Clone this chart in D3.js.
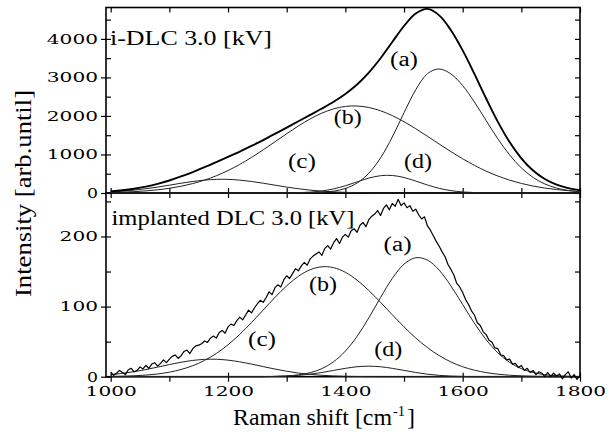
<!DOCTYPE html>
<html>
<head>
<meta charset="utf-8">
<script src="https://cdn.jsdelivr.net/npm/d3@7"></script>
<style>
  body { margin: 0; background: #fff; }
  text { fill: #000; }
</style>
</head>
<body>
<svg id="chart" width="611" height="437"></svg>
<script>
// sampling grids (Raman shift, cm-1)
const shift = d3.range(1000, 1801, 20);
const shiftFine = d3.range(1000, 1801, 5);

const topTotal = [43, 71, 111, 166, 237, 325, 429, 544, 669, 801, 937, 1076, 1222, 1374, 1533, 1696, 1862, 2026, 2192, 2368, 2570,
  2815, 3123, 3496, 3918, 4334, 4656, 4777, 4609, 4225, 3701, 3091, 2452, 1847, 1322, 900, 584, 363, 218, 127, 72];
const topA = [0, 0, 0, 0, 0, 0, 0, 0, 0, 0, 0, 0, 0, 0, 0, 0, 2, 6, 18, 48, 118,
  259, 513, 911, 1453, 2082, 2679, 3098, 3218, 3090, 2787, 2362, 1880, 1406, 988, 652, 404, 235, 129, 66, 32];
const topB = [14, 23, 36, 55, 83, 122, 175, 245, 335, 447, 583, 742, 923, 1120, 1329, 1539, 1740, 1922, 2073, 2184, 2247,
  2258, 2219, 2134, 2009, 1850, 1668, 1472, 1270, 1073, 887, 718, 568, 440, 334, 248, 180, 128, 89, 61, 40];
const topC = [29, 48, 75, 111, 154, 203, 254, 299, 334, 354, 354, 334, 299, 254, 203, 154, 111, 75, 48, 29, 17,
  9, 5, 2, 1, 0, 0, 0, 0, 0, 0, 0, 0, 0, 0, 0, 0, 0, 0, 0, 0];
const topD = [0, 0, 0, 0, 0, 0, 0, 0, 0, 0, 0, 0, 0, 0, 1, 3, 9, 23, 53, 107, 188,
  289, 386, 449, 455, 402, 309, 207, 121, 62, 27, 11, 4, 1, 0, 0, 0, 0, 0, 0, 0];

// implanted DLC 3.0 kV : raw spectrum (every 5 cm-1) + fitted peaks
const implantedRaw = [
  7, 2, 5, 9, 6, 3, 10, 12, 7, 9,
  14, 11, 16, 12, 18, 20, 15, 19, 24, 20,
  25, 29, 31, 26, 30, 36, 38, 33, 40, 44,
  45, 47, 51, 49, 55, 58, 55, 63, 66, 62,
  71, 75, 73, 80, 85, 81, 88, 95, 91, 98,
  104, 109, 106, 113, 121, 117, 127, 131, 128, 138,
  144, 140, 147, 154, 151, 158, 163, 159, 168, 172,
  175, 178, 173, 183, 187, 182, 191, 197, 190, 199,
  203, 199, 208, 211, 206, 216, 220, 214, 224, 229,
  232, 237, 230, 240, 245, 238, 247, 243, 253, 244,
  248, 241, 244, 236, 239, 231, 225, 228, 215, 209,
  201, 193, 186, 178, 171, 160, 153, 145, 133, 128,
  120, 110, 103, 94, 88, 77, 73, 64, 60, 52,
  49, 41, 40, 31, 30, 24, 25, 18, 19, 13,
  16, 9, 12, 6, 9, 3, 7, 5, 0, 6,
  0, 5, 1, 4, -3, 3, 7, -2, 3, -4,
  2];
const botA = [0, 0, 0, 0, 0, 0, 0, 0, 0, 0, 0, 0, 0, 0, 0.4, 1.1, 2.7, 5.7, 11.5, 21.4, 36.5,
  57.6, 83.9, 112.9, 140.1, 160.5, 169.7, 166.3, 151.9, 129.4, 102.9, 76.3, 52.8, 34.0, 20.5, 11.5, 6.0, 2.9, 1.3, 0.6, 0.2];
const botB = [0.4, 0.7, 1.3, 2.3, 3.9, 6.4, 10.3, 15.7, 23.2, 33.1, 45.5, 60.4, 77.2, 95.1, 113.1, 129.6, 143.2, 152.6, 156.8, 155.5, 148.9,
  137.7, 123.0, 106.1, 88.3, 71.1, 55.2, 41.5, 30.1, 21.0, 14.2, 9.3, 5.9, 3.6, 2.1, 1.2, 0.7, 0.4, 0.2, 0.1, 0];
const botC = [3.0, 4.8, 7.2, 10.2, 13.7, 17.3, 20.6, 23.2, 24.7, 24.9, 23.6, 21.2, 18.0, 14.4, 10.9, 7.8, 5.2, 3.3, 2.0, 1.1, 0.6,
  0.3, 0.1, 0, 0, 0, 0, 0, 0, 0, 0, 0, 0, 0, 0, 0, 0, 0, 0, 0, 0];
const botD = [0, 0, 0, 0, 0, 0, 0, 0, 0, 0, 0, 0, 0, 0, 0.4, 0.9, 1.9, 3.6, 6.0, 9.0, 11.9,
  14.2, 15.0, 14.2, 11.9, 9.0, 6.0, 3.6, 1.9, 0.9, 0.4, 0, 0, 0, 0, 0, 0, 0, 0, 0, 0];

const xMajor = [1000, 1200, 1400, 1600, 1800];
const xMinor = [1000, 1100, 1200, 1300, 1400, 1500, 1600, 1700, 1800];
const topMajor = [0, 1000, 2000, 3000, 4000];
const topMinor = [0, 500, 1000, 1500, 2000, 2500, 3000, 3500, 4000, 4500];
const botMajor = [0, 100, 200];
const botMinor = [0, 50, 100, 150, 200, 250];

const peakLabels = ["(a)", "(b)", "(c)", "(d)"];
// label anchors in data units
const topLabelShift = [1500, 1404, 1326, 1524];
const topLabelInt = [3300, 1790, 650, 650];
const botLabelShift = [1489, 1362, 1258, 1473];
const botLabelInt = [179, 122, 44, 29.5];

const svg = d3.select("#chart");
const left = 106, right = 580;

const x = d3.scaleLinear().domain([992, 1800]).range([left, right]);
const yTop = d3.scaleLinear().domain([0, 4814]).range([193, 7.5]);
const yBot = d3.scaleLinear().domain([0, 262]).range([376.7, 193]);

const serif = "'Liberation Serif', 'Times New Roman', serif";
const numFont = "'DejaVu Serif', serif";
const fmt = d3.format("d");

function stretchNums(sel) {
  sel.selectAll("text")
    .attr("font-family", numFont)
    .attr("font-size", "13.5px")
    .attr("lengthAdjust", "spacingAndGlyphs")
    .each(function () {
      const n = this.textContent.length;
      if (n) this.setAttribute("textLength", n === 1 ? 11 : n * 12.8);
    });
}

function drawPanel(y, yMin, yMaj, showX) {
  const [y0, y1] = y.range();
  const g = svg.append("g");

  // left: minor ticks inside, majors crossing with labels
  g.append("g").attr("transform", `translate(${left},0)`)
    .call(d3.axisLeft(y).tickValues(yMin).tickSize(-5).tickFormat(""));
  const yl = g.append("g").attr("transform", `translate(${left},0)`)
    .call(d3.axisLeft(y).tickValues(yMaj).tickSize(5).tickPadding(3).tickFormat(fmt));
  stretchNums(yl);

  // right
  g.append("g").attr("transform", `translate(${right},0)`)
    .call(d3.axisRight(y).tickValues(yMin).tickSize(-5).tickFormat(""));

  // top
  g.append("g").attr("transform", `translate(0,${y1})`)
    .call(d3.axisTop(x).tickValues(xMinor).tickSize(-5).tickFormat(""));

  // bottom
  if (showX) {
    g.append("g").attr("transform", `translate(0,${y0})`)
      .call(d3.axisBottom(x).tickValues(xMinor).tickSize(5).tickFormat(""));
    const xl = g.append("g").attr("transform", `translate(0,${y0})`)
      .call(d3.axisBottom(x).tickValues(xMajor).tickSize(-4).tickPadding(10).tickFormat(fmt));
    stretchNums(xl);
  } else {
    g.append("g").attr("transform", `translate(0,${y0})`)
      .call(d3.axisBottom(x).tickValues(xMinor).tickSize(-5).tickFormat(""));
  }

  g.selectAll(".domain").remove();
  g.selectAll(".tick line").attr("stroke", "#000").attr("stroke-width", 1.2);

  g.append("rect")
    .attr("x", left).attr("y", y1)
    .attr("width", right - left).attr("height", y0 - y1)
    .attr("fill", "none").attr("stroke", "#000").attr("stroke-width", 1.6);
}

function curve(y, xs, vals, width, color, kind) {
  const line = d3.line()
    .x((d, i) => x(xs[i]))
    .y(d => y(d))
    .curve(kind);
  svg.append("path")
    .attr("d", line(vals))
    .attr("fill", "none")
    .attr("stroke", color)
    .attr("stroke-width", width)
    .attr("stroke-linejoin", "round");
}

drawPanel(yTop, topMinor, topMajor, false);
drawPanel(yBot, botMinor, botMajor, true);

const smooth = d3.curveCatmullRom.alpha(0.5);

// top panel curves
[topA, topB, topC, topD].forEach(s => curve(yTop, shift, s, 1, "#222", smooth));
curve(yTop, shift, topTotal, 1.9, "#000", smooth);

// bottom panel curves
[botA, botB, botC, botD].forEach(s => curve(yBot, shift, s, 1, "#222", smooth));
curve(yBot, shiftFine, implantedRaw, 1.2, "#000", d3.curveLinear);

// peak labels
peakLabels.forEach((t, i) => {
  svg.append("text")
    .attr("x", x(topLabelShift[i])).attr("y", yTop(topLabelInt[i]))
    .attr("text-anchor", "middle")
    .attr("font-family", serif).attr("font-size", "20px")
    .attr("textLength", 28).attr("lengthAdjust", "spacingAndGlyphs")
    .text(t);
  svg.append("text")
    .attr("x", x(botLabelShift[i])).attr("y", yBot(botLabelInt[i]))
    .attr("text-anchor", "middle")
    .attr("font-family", serif).attr("font-size", "20px")
    .attr("textLength", 28).attr("lengthAdjust", "spacingAndGlyphs")
    .text(t);
});

// panel titles
svg.append("text")
  .attr("x", 110).attr("y", 45)
  .attr("font-family", serif).attr("font-size", "20px")
  .attr("textLength", 162).attr("lengthAdjust", "spacingAndGlyphs")
  .text("i-DLC 3.0 [kV]");
svg.append("text")
  .attr("x", 111.5).attr("y", 225)
  .attr("font-family", serif).attr("font-size", "20px")
  .attr("textLength", 243).attr("lengthAdjust", "spacingAndGlyphs")
  .text("implanted DLC 3.0 [kV]");

// axis titles
svg.append("text")
  .attr("transform", "translate(31,193.5) rotate(-90)")
  .attr("text-anchor", "middle")
  .attr("font-family", serif).attr("font-size", "24px")
  .attr("textLength", 207).attr("lengthAdjust", "spacingAndGlyphs")
  .text("Intensity [arb.until]");

svg.append("text")
  .attr("x", 233).attr("y", 425)
  .attr("font-family", serif).attr("font-size", "24px")
  .attr("textLength", 159).attr("lengthAdjust", "spacingAndGlyphs")
  .text("Raman shift [cm");
svg.append("text")
  .attr("x", 393).attr("y", 416)
  .attr("font-family", serif).attr("font-size", "14px")
  .attr("textLength", 12).attr("lengthAdjust", "spacingAndGlyphs")
  .text("-1");
svg.append("text")
  .attr("x", 407).attr("y", 425)
  .attr("font-family", serif).attr("font-size", "24px")
  .text("]");
</script>
</body>
</html>
